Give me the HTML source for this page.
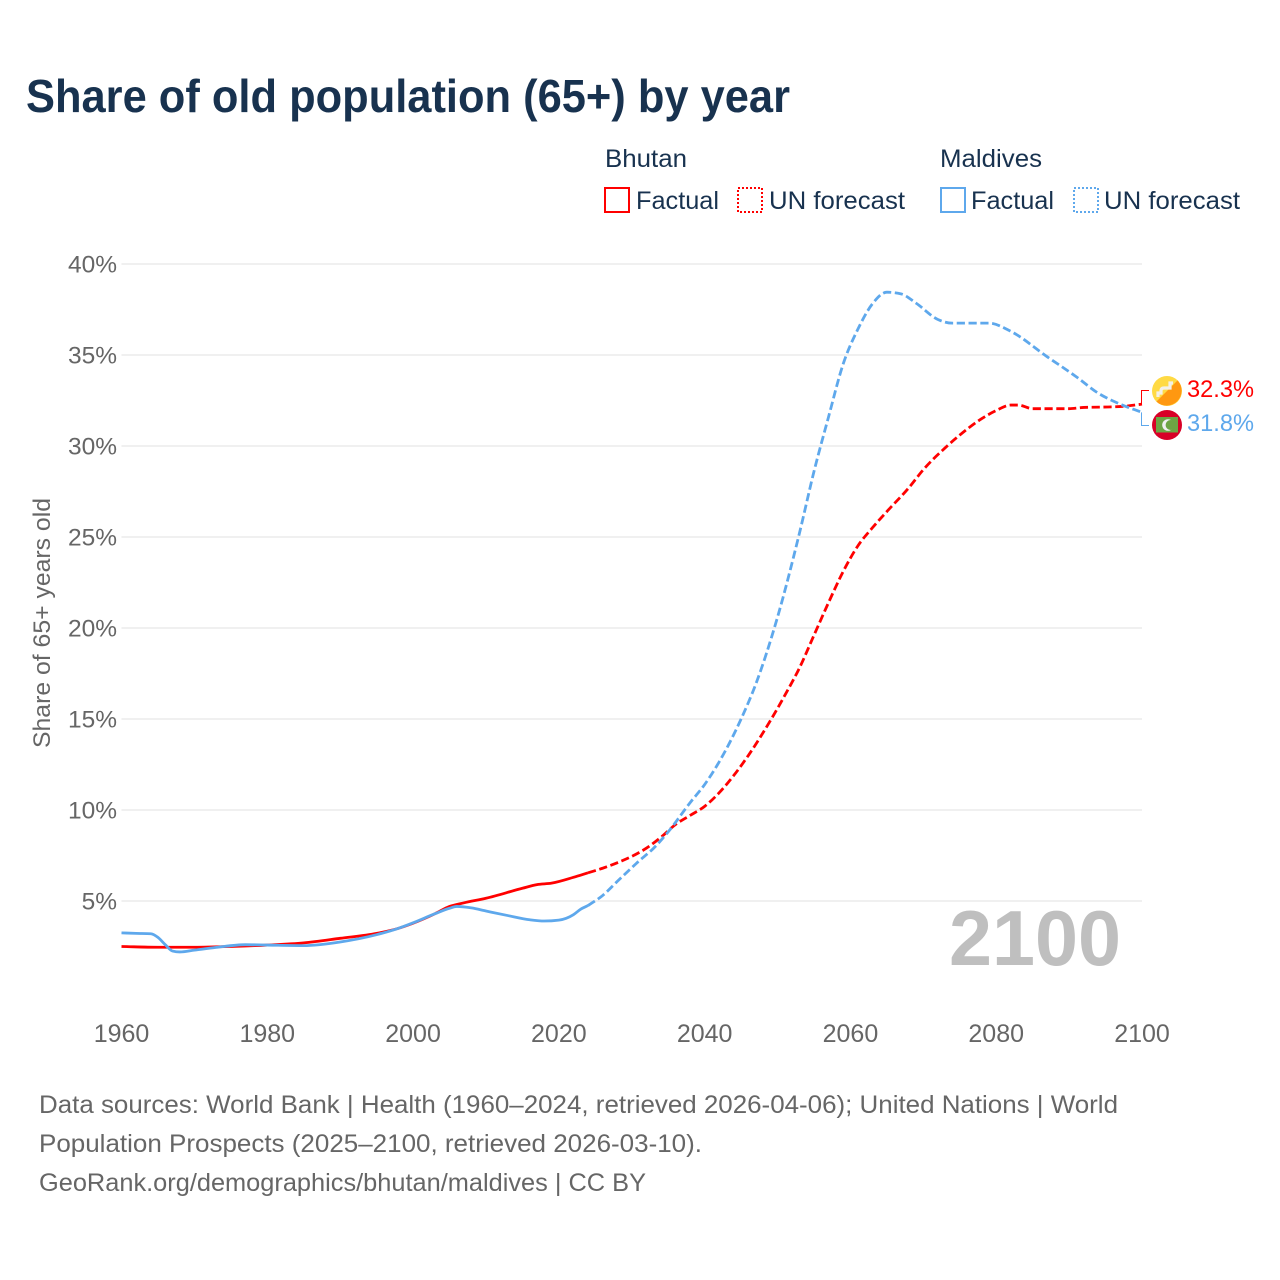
<!DOCTYPE html>
<html lang="en">
<head>
<meta charset="utf-8">
<title>Share of old population (65+) by year</title>
<style>
html,body{margin:0;padding:0;background:#fff;}
svg{display:block;font-family:"Liberation Sans",Arial,sans-serif;}
</style>
</head>
<body>
<svg id="chart" width="1280" height="1280" viewBox="0 0 1280 1280" xmlns="http://www.w3.org/2000/svg">
  <rect x="0" y="0" width="1280" height="1280" fill="#ffffff"/>
  <text x="26" y="112" font-size="46" font-weight="700" fill="#18324f" textLength="764" lengthAdjust="spacingAndGlyphs">Share of old population (65+) by year</text>

  <g font-size="25" fill="#18324f">
    <text x="605" y="167" textLength="82" lengthAdjust="spacingAndGlyphs">Bhutan</text>
    <text x="940" y="167" textLength="102" lengthAdjust="spacingAndGlyphs">Maldives</text>
    <g>
      <rect x="605" y="188" width="24" height="24" fill="none" stroke="#ff0000" stroke-width="2"/>
      <text x="636" y="209" textLength="83" lengthAdjust="spacingAndGlyphs">Factual</text>
    </g>
    <g>
      <rect x="738" y="188" width="24" height="24" fill="none" stroke="#ff0000" stroke-width="2" stroke-dasharray="2 2"/>
      <text x="769" y="209" textLength="136" lengthAdjust="spacingAndGlyphs">UN forecast</text>
    </g>
    <g>
      <rect x="941" y="188" width="24" height="24" fill="none" stroke="#5ea8ec" stroke-width="2"/>
      <text x="971" y="209" textLength="83" lengthAdjust="spacingAndGlyphs">Factual</text>
    </g>
    <g>
      <rect x="1074" y="188" width="24" height="24" fill="none" stroke="#5ea8ec" stroke-width="2" stroke-dasharray="2 2"/>
      <text x="1104" y="209" textLength="136" lengthAdjust="spacingAndGlyphs">UN forecast</text>
    </g>
  </g>

  <g id="grid"></g>
  <g id="yticks"></g>
  <g id="xticks"></g>
  <text transform="translate(50,748) rotate(-90)" font-size="24.5" fill="#666666" textLength="250" lengthAdjust="spacingAndGlyphs">Share of 65+ years old</text>
  <text x="949" y="965" font-size="78" font-weight="700" fill="#bfbfbf" textLength="172" lengthAdjust="spacingAndGlyphs">2100</text>

  <g id="series"></g>

  <g id="endlabels"></g>

  <g>
    <circle cx="1167" cy="391" r="15" fill="#ffda44"/>
    <path d="M1177.6 380.4A15 15 0 0 1 1156.4 401.6Z" fill="#ff9811"/>
    <path d="M1173 383h-3v5h-6q-3 0-3 3v2h-3v4" fill="none" stroke="#f3f0e8" stroke-width="3.2"/>
  </g>
  <g>
    <circle cx="1167" cy="425" r="15" fill="#d80027"/>
    <rect x="1156" y="417" width="22" height="15.5" fill="#6da544"/>
    <circle cx="1168" cy="425" r="5.8" fill="#f0f0f0"/>
    <circle cx="1170.6" cy="425" r="5" fill="#6da544"/>
  </g>

  <g font-size="25" fill="#666666">
    <text x="39" y="1113" textLength="1079" lengthAdjust="spacingAndGlyphs">Data sources: World Bank | Health (1960–2024, retrieved 2026-04-06); United Nations | World</text>
    <text x="39" y="1152" textLength="663" lengthAdjust="spacingAndGlyphs">Population Prospects (2025–2100, retrieved 2026-03-10).</text>
    <text x="39" y="1191" textLength="607" lengthAdjust="spacingAndGlyphs">GeoRank.org/demographics/bhutan/maldives | CC BY</text>
  </g>
</svg>
<script>
const yTickValues = [5, 10, 15, 20, 25, 30, 35, 40];
const xTickValues = [1960, 1980, 2000, 2020, 2040, 2060, 2080, 2100];

const bhutanFactualYears = [1960, 1965, 1970, 1975, 1980, 1985, 1990, 1995, 1998, 2000, 2003, 2005, 2007, 2010, 2015, 2017, 2019, 2022, 2024];
const bhutanFactualValues = [2.5, 2.46, 2.46, 2.5, 2.58, 2.7, 2.95, 3.22, 3.5, 3.78, 4.3, 4.7, 4.9, 5.15, 5.7, 5.9, 5.98, 6.3, 6.55];

const bhutanForecastYears = [2024, 2026, 2028, 2030, 2032, 2034, 2036, 2038, 2040, 2042, 2044, 2046, 2049, 2051, 2053, 2055, 2057, 2059, 2061, 2063, 2065, 2068, 2070, 2073, 2075, 2078, 2080, 2082, 2083, 2085, 2090, 2092, 2096, 2098, 2100];
const bhutanForecastValues = [6.55, 6.8, 7.1, 7.45, 7.9, 8.5, 9.2, 9.7, 10.2, 10.95, 11.9, 13.0, 14.9, 16.3, 17.8, 19.6, 21.4, 23.1, 24.5, 25.5, 26.4, 27.7, 28.7, 29.9, 30.6, 31.5, 31.95, 32.25, 32.25, 32.05, 32.05, 32.12, 32.15, 32.2, 32.3];

const maldivesFactualYears = [1960, 1962, 1964, 1965, 1966, 1967, 1968, 1970, 1973, 1977, 1980, 1985, 1990, 1995, 1998, 2000, 2003, 2005, 2006, 2008, 2010, 2013, 2016, 2018, 2020, 2021, 2022, 2023, 2024];
const maldivesFactualValues = [3.25, 3.22, 3.2, 3.0, 2.6, 2.25, 2.2, 2.3, 2.45, 2.6, 2.58, 2.55, 2.75, 3.15, 3.5, 3.8, 4.3, 4.6, 4.7, 4.62, 4.45, 4.2, 3.97, 3.9, 3.95, 4.05, 4.25, 4.55, 4.75];

const maldivesForecastYears = [2024, 2026, 2028, 2031, 2033, 2035, 2038, 2040, 2042, 2045, 2047, 2050, 2053, 2055, 2057, 2059, 2061, 2063, 2065, 2067, 2069, 2072, 2074, 2079, 2082, 2087, 2091, 2094, 2097, 2100];
const maldivesForecastValues = [4.75, 5.3, 6.07, 7.2, 7.9, 8.8, 10.4, 11.4, 12.65, 15.0, 16.9, 20.6, 25.2, 28.6, 31.6, 34.5, 36.4, 37.8, 38.45, 38.35, 37.85, 36.95, 36.75, 36.75, 36.3, 34.9, 33.8, 32.9, 32.3, 31.85];

const endLabelTexts = ['32.3%', '31.8%'];

const NS = 'http://www.w3.org/2000/svg';
const plotLeft = 121.5, plotRight = 1142, yearMin = 1960, yearMax = 2100;
const plotZeroY = 992, pxPerPercent = 18.2;
const xScale = function (year) { return plotLeft + (year - yearMin) * (plotRight - plotLeft) / (yearMax - yearMin); };
const yScale = function (value) { return plotZeroY - value * pxPerPercent; };

function make(tag, parent, attrs) {
  const el = document.createElementNS(NS, tag);
  Object.keys(attrs).forEach(function (k) { el.setAttribute(k, attrs[k]); });
  parent.appendChild(el);
  return el;
}

function monotonePath(years, values) {
  const xs = years.map(xScale), ys = values.map(yScale), n = xs.length;
  const slopes = [], tangents = [];
  for (let i = 0; i < n - 1; i++) slopes.push((ys[i + 1] - ys[i]) / (xs[i + 1] - xs[i]));
  tangents.push(slopes[0]);
  for (let i = 1; i < n - 1; i++) {
    const h0 = xs[i] - xs[i - 1], h1 = xs[i + 1] - xs[i];
    const p = (slopes[i - 1] * h1 + slopes[i] * h0) / (h0 + h1);
    const limit = Math.min(Math.abs(slopes[i - 1]), Math.abs(slopes[i]), 0.5 * Math.abs(p));
    tangents.push((Math.sign(slopes[i - 1]) + Math.sign(slopes[i])) * limit);
  }
  tangents.push(slopes[n - 2]);
  let d = 'M' + xs[0].toFixed(2) + ' ' + ys[0].toFixed(2);
  for (let i = 0; i < n - 1; i++) {
    const h = (xs[i + 1] - xs[i]) / 3;
    d += 'C' + (xs[i] + h).toFixed(2) + ' ' + (ys[i] + tangents[i] * h).toFixed(2) + ' ' +
      (xs[i + 1] - h).toFixed(2) + ' ' + (ys[i + 1] - tangents[i + 1] * h).toFixed(2) + ' ' +
      xs[i + 1].toFixed(2) + ' ' + ys[i + 1].toFixed(2);
  }
  return d;
}

const gridGroup = document.getElementById('grid');
const yTickGroup = document.getElementById('yticks');
const xTickGroup = document.getElementById('xticks');
const seriesGroup = document.getElementById('series');
const endGroup = document.getElementById('endlabels');

yTickValues.forEach(function (v) {
  const line = make('line', gridGroup, { x1: plotLeft, x2: plotRight, y1: yScale(v), y2: yScale(v), stroke: '#e6e6e6', 'stroke-width': 1.3 });
  
  
  const label = make('text', yTickGroup, { x: 117, y: yScale(v) + 8.5, 'text-anchor': 'end', 'font-size': 24.5, fill: '#666666' });
  
  
  label.textContent = v + '%';
});

xTickValues.forEach(function (y) {
  const label = make('text', xTickGroup, { x: xScale(y), y: 1042, 'text-anchor': 'middle', 'font-size': 25, fill: '#666666' });
  
  
  label.textContent = y;
});

const factualBhutan = make('path', seriesGroup, { d: monotonePath(bhutanFactualYears, bhutanFactualValues), fill: 'none', stroke: '#ff0000', 'stroke-width': 2.8 });



const forecastBhutan = make('path', seriesGroup, { d: monotonePath(bhutanForecastYears, bhutanForecastValues), fill: 'none', stroke: '#ff0000', 'stroke-width': 2.8, 'stroke-dasharray': '8.2 3.6' });



const factualMaldives = make('path', seriesGroup, { d: monotonePath(maldivesFactualYears, maldivesFactualValues), fill: 'none', stroke: '#5ea8ec', 'stroke-width': 2.8 });



const forecastMaldives = make('path', seriesGroup, { d: monotonePath(maldivesForecastYears, maldivesForecastValues), fill: 'none', stroke: '#5ea8ec', 'stroke-width': 2.8, 'stroke-dasharray': '8.2 3.6' });



const bhutanEndY = yScale(bhutanForecastValues[bhutanForecastValues.length - 1]);
const maldivesEndY = yScale(maldivesForecastValues[maldivesForecastValues.length - 1]);

const connectorBhutan = make('path', endGroup, { d: 'M1141.5 ' + bhutanEndY + 'V390.5H1149', fill: 'none', stroke: '#ff0000', 'stroke-width': 1 });



const connectorMaldives = make('path', endGroup, { d: 'M1141.5 ' + maldivesEndY + 'V425.5H1149', fill: 'none', stroke: '#5ea8ec', 'stroke-width': 1 });



const labelBhutan = make('text', endGroup, { x: 1187, y: 397, 'font-size': 24.5, fill: '#ff0000', textLength: 67, lengthAdjust: 'spacingAndGlyphs' });


labelBhutan.textContent = endLabelTexts[0];

const labelMaldives = make('text', endGroup, { x: 1187, y: 431, 'font-size': 24.5, fill: '#5ea8ec', textLength: 67, lengthAdjust: 'spacingAndGlyphs' });


labelMaldives.textContent = endLabelTexts[1];
</script>
</body>
</html>
